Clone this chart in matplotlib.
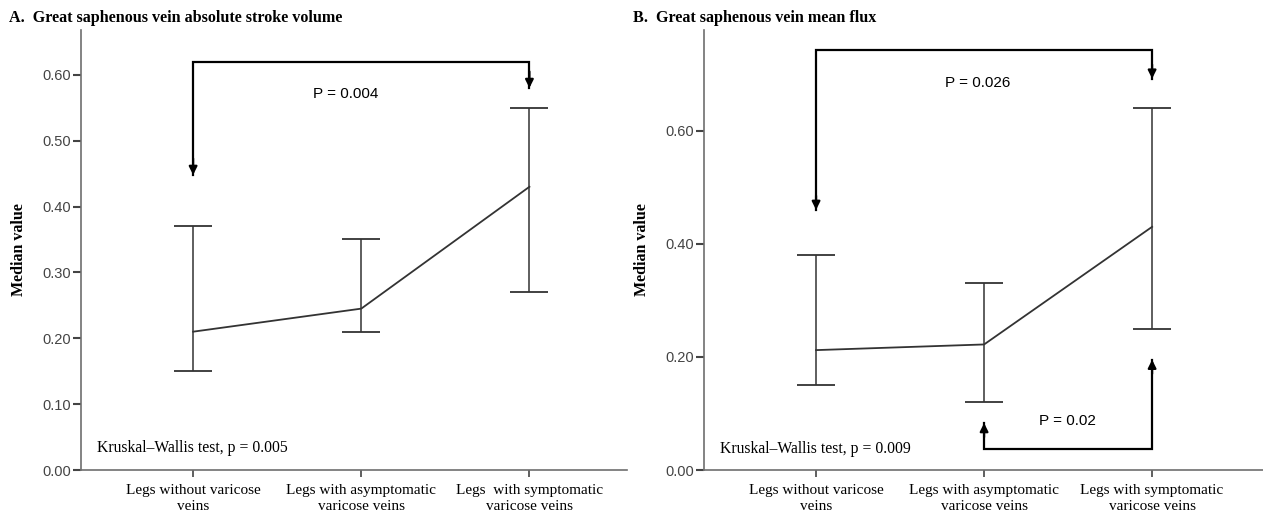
import matplotlib
matplotlib.use("Agg")
import matplotlib.pyplot as plt

# data
categories = ["Legs without varicose\nveins",
              "Legs with asymptomatic\nvaricose veins",
              "Legs  with symptomatic\nvaricose veins"]
categories_b = ["Legs without varicose\nveins",
                "Legs with asymptomatic\nvaricose veins",
                "Legs with symptomatic\nvaricose veins"]

sv_median = [0.21, 0.245, 0.43]
sv_lower = [0.15, 0.21, 0.27]
sv_upper = [0.37, 0.35, 0.55]

flux_median = [0.212, 0.222, 0.43]
flux_lower = [0.15, 0.12, 0.25]
flux_upper = [0.38, 0.33, 0.64]

SERIF = "Liberation Serif"
SANS = "Liberation Sans"
LINE = "#333333"
AXIS = "#6e6e6e"


def style_axes(ax, ymax, yticks, labels):
    for s in ["top", "right"]:
        ax.spines[s].set_visible(False)
    for s in ["left", "bottom"]:
        ax.spines[s].set_color(AXIS)
        ax.spines[s].set_linewidth(1.2)
    ax.set_ylim(0, ymax)
    ax.set_yticks(yticks)
    ax.set_yticklabels([f"{t:.2f}" for t in yticks], fontfamily=SANS,
                       fontsize=10.5, color="#444444")
    ax.set_xticks(range(3))
    ax.set_xticklabels(labels, fontfamily=SERIF, fontsize=11, linespacing=1.35)
    ax.tick_params(axis="y", length=6, width=1.5, color="#444444", pad=1)
    ax.tick_params(axis="x", length=5, width=1.2, color="#444444", pad=5)
    ax.set_ylabel("Median value", fontfamily=SERIF, fontweight="bold",
                  fontsize=11.5, labelpad=11)


def draw_series(ax, med, lo, hi):
    x = list(range(len(med)))
    yerr = [[m - l for m, l in zip(med, lo)], [h - m for m, h in zip(med, hi)]]
    ax.errorbar(x, med, yerr=yerr, color=LINE, lw=1.3, elinewidth=1.1,
                capsize=14, capthick=1.3)


def bracket(ax, x1, x2, ybar, y1, y2, down=True):
    ax.plot([x1, x1, x2, x2], [y1, ybar, ybar, y2], color="black", lw=1.6,
            solid_joinstyle="miter")
    for xx, yy in [(x1, y1), (x2, y2)]:
        dy = 0.025 if down else -0.025
        ax.annotate("", xy=(xx, yy), xytext=(xx, yy + dy),
                    arrowprops=dict(arrowstyle="-|>", color="black", lw=1.6,
                                    mutation_scale=12, shrinkA=0, shrinkB=0))


fig = plt.figure(figsize=(12.63, 5.14), dpi=100)
ax1 = fig.add_axes([0.0641, 0.0856, 0.4323, 0.856])
ax2 = fig.add_axes([0.5574, 0.0856, 0.4426, 0.856])

# panel A
draw_series(ax1, sv_median, sv_lower, sv_upper)
style_axes(ax1, 0.668, [0.0, 0.1, 0.2, 0.3, 0.4, 0.5, 0.6], categories)
ax1.set_xlim(-0.667, 2.58)
bracket(ax1, 0, 2, 0.62, 0.448, 0.58)
ax1.text(0.905, 0.571, "P = 0.004", ha="center", va="center",
         fontfamily=SANS, fontsize=11)
ax1.text(-0.571, 0.033, "Kruskal\u2013Wallis test, p = 0.005", ha="left",
         va="center", fontfamily=SERIF, fontsize=11.3)

# panel B
draw_series(ax2, flux_median, flux_lower, flux_upper)
style_axes(ax2, 0.778, [0.0, 0.2, 0.4, 0.6], categories_b)
ax2.set_xlim(-0.667, 2.66)
bracket(ax2, 0, 2, 0.743, 0.46, 0.692)
ax2.text(0.964, 0.685, "P = 0.026", ha="center", va="center",
         fontfamily=SANS, fontsize=11)
bracket(ax2, 1, 2, 0.037, 0.083, 0.195, down=False)
ax2.text(1.494, 0.087, "P = 0.02", ha="center", va="center",
         fontfamily=SANS, fontsize=11)
ax2.text(-0.574, 0.037, "Kruskal\u2013Wallis test, p = 0.009", ha="left",
         va="center", fontfamily=SERIF, fontsize=11.3)

fig.text(9 / 1263, 1 - 18 / 514, "A.  Great saphenous vein absolute stroke volume",
         fontfamily=SERIF, fontweight="bold", fontsize=11.6, va="center")
fig.text(633 / 1263, 1 - 18 / 514, "B.  Great saphenous vein mean flux",
         fontfamily=SERIF, fontweight="bold", fontsize=11.6, va="center")

fig.savefig("out.png", dpi=100)
